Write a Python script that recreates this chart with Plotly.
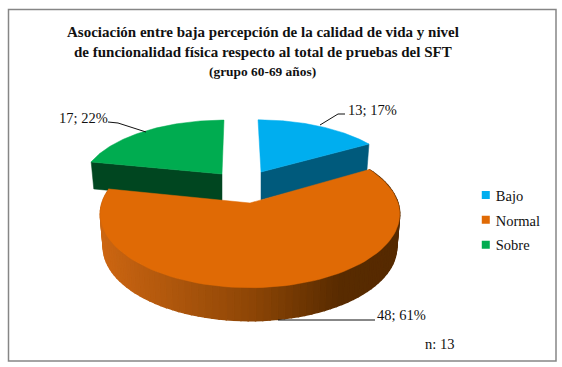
import math
import plotly.graph_objects as go

# ---- data ----
categories = ["Bajo", "Normal", "Sobre"]
counts = [13, 48, 17]
percents = [17, 61, 22]
sample_note = "n: 13"
title_lines = [
    "Asociación entre baja percepción de la calidad de vida y nivel",
    "de funcionalidad física respecto al total de pruebas del SFT",
]
subtitle = "(grupo 60-69 años)"

# ---- styling ----
W, H = 562, 367
FONT = "Liberation Serif"
top_colors = {"Bajo": "#00AEEF", "Normal": "#E06A05", "Sobre": "#00AC50"}
side_colors = {"Bajo": "#005A7C", "Sobre": "#004620"}

# ---- projection of the tilted, exploded pie onto the page (pixels) ----
geom = {
    "Bajo":   dict(cx=261, cy=172, A=136, B=60, k=0.15, s=0.057, depth=28),
    "Normal": dict(cx=250, cy=203, A=148, B=72, k=0.15, s=0.0, depth=33),
    "Sobre":  dict(cx=222, cy=174, A=138, B=62, k=0.15, s=-0.037, depth=27),
}


def proj(g, theta, r=1.0, lower=False):
    u, v = r * math.sin(theta), r * math.cos(theta)
    d = 1 + g["k"] * v
    dx, dy = g["A"] * u / d, -g["B"] * v / d
    x, y = g["cx"] + dx + g["s"] * dy, g["cy"] + dy
    if lower:
        x = g["cx"] + (x - g["cx"]) * 0.98
        y = y + g["depth"]
    return x, y


total = sum(counts)
bounds, acc = {}, 0.0
for name, c in zip(categories, counts):
    a0 = acc / total * 2 * math.pi
    acc += c
    bounds[name] = (a0, acc / total * 2 * math.pi)


def arc(name, n=90, lower=False):
    a0, a1 = bounds[name]
    return [proj(geom[name], a0 + (a1 - a0) * i / n, lower=lower) for i in range(n + 1)]


def poly(fig, pts, color, width=0.5):
    xs = [p[0] for p in pts] + [pts[0][0]]
    ys = [p[1] for p in pts] + [pts[0][1]]
    fig.add_trace(go.Scatter(x=xs, y=ys, mode="lines", fill="toself", fillcolor=color,
                             line=dict(color=color, width=width), hoverinfo="skip",
                             showlegend=False))


def lerp_color(x):
    stops = [(100, (0xCC, 0x66, 0x12)), (250, (0x8E, 0x46, 0x06)), (340, (0x58, 0x2B, 0x00)), (400, (0x56, 0x2A, 0x00))]
    for (x0, c0), (x1, c1) in zip(stops, stops[1:]):
        if x <= x1:
            t = max(0, (x - x0) / (x1 - x0))
            return "rgb(%d,%d,%d)" % tuple(round(a + (b - a) * t) for a, b in zip(c0, c1))
    return "rgb(86,42,0)"


fig = go.Figure()

# wedge side walls and tops, back to front
for name in ["Sobre", "Bajo"]:
    g = geom[name]
    a0, a1 = bounds[name]
    edge = a0 if name == "Sobre" else a1
    apex = proj(g, 0, r=0)
    rim = proj(g, edge)
    apex_l = proj(g, 0, r=0, lower=True)
    rim_l = proj(g, edge, lower=True)
    poly(fig, [apex, rim, rim_l, apex_l], side_colors[name])
    poly(fig, [apex] + arc(name), top_colors[name])

# large wedge: shaded outer wall split in thin strips
n_strips = 90
g = geom["Normal"]
a0, a1 = bounds["Normal"]
for i in range(n_strips):
    t0 = a0 + (a1 - a0) * i / n_strips
    t1 = a0 + (a1 - a0) * (i + 1) / n_strips
    p0, p1 = proj(g, t0), proj(g, t1)
    q0, q1 = proj(g, t0, lower=True), proj(g, t1, lower=True)
    poly(fig, [p0, p1, q1, q0], lerp_color((p0[0] + p1[0]) / 2), width=1.5)
poly(fig, [proj(g, 0, r=0)] + arc("Normal"), top_colors["Normal"])

# leader lines
leaders = [[(320, 125), (338, 114), (345, 114)], [(278, 320), (375, 320)], [(146, 132), (118, 123), (108, 122)]]
for line in leaders:
    fig.add_trace(go.Scatter(x=[p[0] for p in line], y=[p[1] for p in line], mode="lines",
                             line=dict(color="#111111", width=1), hoverinfo="skip", showlegend=False))

# legend entries
for i, name in enumerate(categories):
    fig.add_trace(go.Scatter(x=[None], y=[None], mode="markers", name=name, legendgroup=name,
                             marker=dict(symbol="square", size=8, color=top_colors[name])))

# data labels
label_pos = [(346, 110), (375, 315), (57, 118)]
anns = []
for (x, y), c, p in zip(label_pos, counts, percents):
    anns.append(dict(x=x, y=y, xref="x", yref="y", xanchor="left", yanchor="middle", showarrow=False,
                     text=f"{c}; {p}%", font=dict(family=FONT, size=14.5, color="#111111")))
anns.append(dict(x=423, y=344, xref="x", yref="y", xanchor="left", yanchor="middle", showarrow=False,
                 text=sample_note, font=dict(family=FONT, size=14.5, color="#111111")))
for y, txt, size, cx in [(32, "<b>" + title_lines[0] + "</b>", 15, 263), (52, "<b>" + title_lines[1] + "</b>", 15, 263),
                         (71, "<b>" + subtitle + "</b>", 13.4, 262)]:
    anns.append(dict(x=cx, y=y, xref="x", yref="y", xanchor="center", yanchor="middle", showarrow=False,
                     text=txt, font=dict(family=FONT, size=size, color="#111111")))

fig.update_layout(
    width=W, height=H, autosize=False, margin=dict(l=0, r=0, t=0, b=0),
    paper_bgcolor="white", plot_bgcolor="white",
    xaxis=dict(range=[0, W], visible=False, fixedrange=True),
    yaxis=dict(range=[H, 0], visible=False, fixedrange=True),
    legend=dict(x=0.811, y=0.512, xanchor="left", yanchor="top", bgcolor="rgba(0,0,0,0)",
                font=dict(family=FONT, size=14.5, color="#111111"), tracegroupgap=3, itemwidth=30,
                itemclick=False, itemdoubleclick=False),
    annotations=anns,
    shapes=[dict(type="rect", xref="x", yref="y", x0=8.5, y0=9.5, x1=556, y1=361,
                 line=dict(color="#868686", width=1.5))],
)

post = """document.body.style.margin='0';
document.documentElement.style.overflow='hidden';
document.querySelectorAll('.legendsymbols').forEach(function(g){g.setAttribute('transform','translate(10,0)');});"""
fig.write_html("out.html", config={"displayModeBar": False}, post_script=post)
